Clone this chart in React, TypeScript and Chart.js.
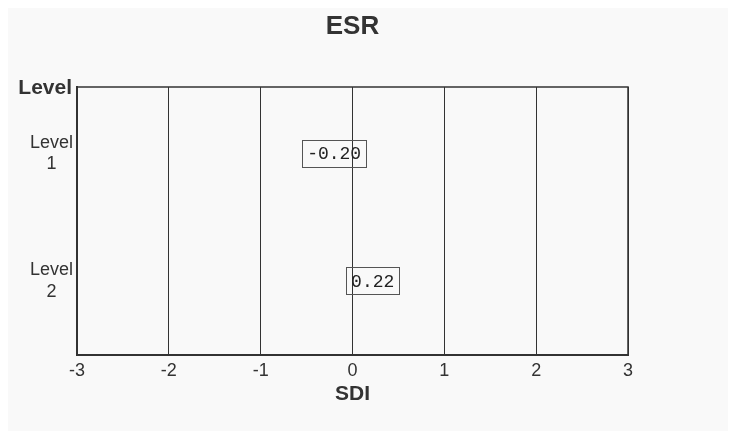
import React, { useEffect, useRef } from "react";
import { Chart, registerables } from "chart.js";

Chart.register(...registerables);

const chartTitle = "ESR";
const yAxisTitle = "Level";
const xAxisTitle = "SDI";
const levelLabels: string[][] = [["Level", "1"], ["Level", "2"]];
const levelPositions: number[] = [1, 2];
const sdiValues: number[] = [-0.2, 0.22];
const xMin = -3;
const xMax = 3;

const SANS = "'Liberation Sans', Arial, sans-serif";
const MONO = "'Liberation Mono', 'Courier New', monospace";

const framePlugin = {
  id: "framePlugin",
  afterDraw(chart: any) {
    const { ctx, chartArea } = chart;
    const { left, top, right, bottom } = chartArea;
    ctx.save();
    // frame
    ctx.strokeStyle = "#333";
    ctx.lineWidth = 1.5;
    ctx.beginPath();
    ctx.moveTo(left, top);
    ctx.lineTo(right, top);
    ctx.lineTo(right, bottom);
    ctx.stroke();
    // title
    ctx.fillStyle = "#333";
    ctx.font = `bold 26px ${SANS}`;
    ctx.textAlign = "center";
    ctx.textBaseline = "middle";
    ctx.fillText(chartTitle, (left + right) / 2, 19);
    // y axis title
    ctx.font = `bold 21px ${SANS}`;
    ctx.textAlign = "right";
    ctx.fillText(yAxisTitle, left - 5, top + 1);
    // value labels
    const meta = chart.getDatasetMeta(0);
    ctx.font = `18px ${MONO}`;
    ctx.textAlign = "center";
    ctx.textBaseline = "middle";
    meta.data.forEach((pt: any, i: number) => {
      const text = sdiValues[i].toFixed(2);
      const w = ctx.measureText(text).width + 10;
      const h = 27;
      ctx.strokeStyle = "#555";
      ctx.lineWidth = 1;
      ctx.strokeRect(Math.round(pt.x - w / 2) + 0.5, Math.round(pt.y - h / 2) + 0.5, Math.round(w), h);
      ctx.fillStyle = "#222";
      ctx.fillText(text, pt.x, pt.y + 1);
    });
    ctx.restore();
  },
};

export default function App() {
  const ref = useRef<HTMLCanvasElement | null>(null);
  useEffect(() => {
    if (!ref.current) return;
    const chart = new Chart(ref.current, {
      type: "scatter",
      data: {
        datasets: [
          {
            data: sdiValues.map((v, i) => ({ x: v, y: levelPositions[i] })),
            pointRadius: 0,
            pointHoverRadius: 0,
          },
        ],
      },
      options: {
        animation: false,
        responsive: false,
        maintainAspectRatio: false,
        layout: { padding: { top: 79, right: 100, bottom: 20, left: 0 } },
        plugins: { legend: { display: false }, tooltip: { enabled: false }, title: { display: false } },
        scales: {
          x: {
            type: "linear",
            min: xMin,
            max: xMax,
            ticks: { stepSize: 1, color: "#333", font: { size: 18, family: SANS }, padding: 5 },
            grid: { color: "#333", lineWidth: 1, drawTicks: false },
            border: { color: "#333", width: 2 },
            title: { display: true, text: xAxisTitle, color: "#333", font: { size: 21, weight: "bold", family: SANS }, padding: { top: 0, bottom: 4 } },
            afterFit(scale: any) {
              scale.height = 56;
            },
          },
          y: {
            type: "linear",
            reverse: true,
            min: 0.48,
            max: 2.58,
            afterBuildTicks(scale: any) {
              scale.ticks = levelPositions.map((v) => ({ value: v }));
            },
            ticks: {
              color: "#333",
              font: { size: 18, family: SANS, lineHeight: 1.2 },
              padding: 4,
              crossAlign: "center",
              callback: (v: any) => {
                const idx = levelPositions.indexOf(Number(v));
                return idx >= 0 ? levelLabels[idx] : "";
              },
            },
            grid: { display: false, drawTicks: false },
            border: { color: "#333", width: 2 },
            afterFit(scale: any) {
              scale.width = 69;
            },
          },
        },
      },
      plugins: [framePlugin],
    });
    return () => chart.destroy();
  }, []);
  return (
    <div style={{ width: 720, height: 423, background: "#f9f9f9" }}>
      <canvas ref={ref} width={720} height={423} style={{ display: "block", width: 720, height: 423 }} />
    </div>
  );
}
